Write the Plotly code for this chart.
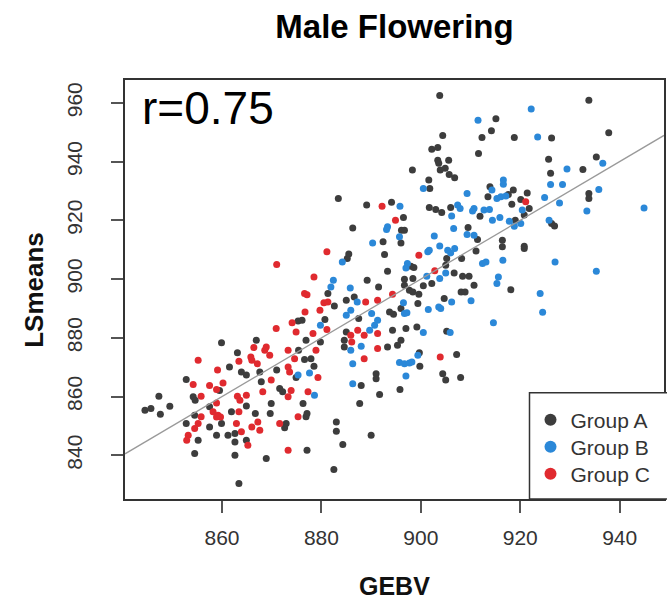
import numpy as np
import plotly.graph_objects as go

# ---------------- data ----------------
group_a_x = [883.4, 889.1, 894.1, 886.3, 892.4, 885.5, 885.2, 892.7, 889.2, 893.3,
             903.8, 933.8, 915.1, 914.2, 904.4, 912.3, 918.8, 926.3, 937.8, 911.6,
             902.2, 903.4, 903.4, 903.6, 905.6, 925.7, 935.3, 898.3, 903.9, 904.9,
             905.7, 906.8, 926.1, 932.6, 901.6, 901.8, 913.9, 918.6, 913.5, 917.6,
             921.4, 920.1, 918.3, 933.8, 933.8, 901.7, 903.0, 904.2, 906.0, 911.9,
             919.0, 921.8, 920.8, 926.3, 926.9, 896.5, 896.1, 896.7, 896.0, 909.5,
             911.4, 905.2, 905.0, 908.2, 911.1, 916.4, 916.4, 920.8, 920.8, 898.0,
             898.6, 906.7, 908.4, 909.7, 896.7, 898.4, 918.1, 896.7, 897.7, 898.4,
             899.6, 900.5, 902.2, 908.1, 908.9, 910.7, 904.7, 899.4, 896.0, 893.7,
             894.5, 894.3, 897.0, 899.2, 905.2, 896.0, 895.3, 893.3, 899.7, 899.8,
             907.2, 904.4, 905.0, 908.0, 895.8, 891.7, 881.3, 882.6, 886.6, 885.0,
             891.5, 887.5, 885.0, 884.6, 884.6, 891.0, 891.0, 888.0, 887.7, 890.0,
             884.3, 883.0, 883.0, 875.3, 876.1, 876.9, 880.7, 879.8, 875.4, 876.6,
             877.9, 878.5, 874.9, 871.0, 866.9, 863.1, 867.6, 867.9, 863.9, 864.9,
             861.5, 852.8, 859.5, 854.2, 854.6, 857.5, 859.9, 861.9, 864.9, 862.6,
             861.2, 862.6, 858.9, 857.5, 854.5, 852.8, 855.2, 854.5, 864.9, 866.7,
             869.9, 869.7, 871.6, 872.2, 872.9, 872.6, 876.3, 876.9, 877.1, 877.1,
             868.9, 862.6, 844.5, 845.7, 847.3, 847.6, 849.5, 859.9, 863.4, 882.5]
group_a_y = [927.4, 925.2, 926.2, 917.4, 912.7, 908.5, 907.0, 908.4, 899.6, 902.7,
             962.5, 960.9, 954.6, 950.5, 948.9, 948.2, 948.2, 948.0, 949.8, 942.8,
             944.2, 944.8, 940.5, 939.4, 940.5, 940.8, 941.6, 937.1, 937.1, 937.7,
             935.6, 934.5, 936.0, 937.3, 933.7, 930.8, 931.4, 930.3, 928.0, 928.8,
             929.3, 927.1, 925.5, 929.1, 927.4, 924.4, 923.7, 922.7, 924.4, 921.4,
             920.0, 924.0, 921.8, 918.9, 918.1, 921.0, 916.6, 916.6, 912.3, 917.6,
             913.5, 907.0, 904.7, 907.0, 909.6, 913.2, 911.0, 911.2, 910.4, 904.4,
             903.9, 902.1, 901.0, 901.0, 899.9, 900.2, 896.4, 897.9, 896.2, 895.6,
             894.8, 897.7, 898.5, 895.6, 895.6, 897.9, 893.4, 891.7, 890.0, 888.8,
             888.0, 882.6, 883.2, 883.7, 882.2, 879.2, 877.5, 876.9, 874.9, 870.3,
             874.3, 867.8, 865.6, 866.5, 862.4, 860.7, 895.1, 890.8, 893.9, 892.8,
             897.3, 886.6, 882.0, 879.2, 876.9, 867.8, 866.1, 863.8, 857.6, 846.8,
             843.7, 851.3, 848.2, 885.7, 886.0, 879.2, 886.2, 878.6, 875.8, 872.6,
             872.9, 870.3, 866.5, 869.0, 879.2, 874.9, 868.4, 865.0, 868.4, 867.3,
             870.1, 865.8, 862.1, 859.9, 858.7, 856.5, 850.8, 854.8, 856.8, 847.4,
             846.8, 844.5, 846.8, 849.6, 853.6, 850.8, 845.1, 840.6, 845.1, 854.2,
             857.6, 854.2, 862.7, 861.6, 850.8, 849.4, 857.6, 853.1, 854.2, 841.7,
             838.9, 840.0, 855.3, 855.9, 860.1, 854.0, 856.7, 878.3, 830.4, 835.2]

group_b_x = [893.3, 893.1, 890.3, 884.2, 882.4, 922.2, 911.5, 923.5, 936.6, 929.4,
             900.5, 916.6, 916.6, 914.3, 926.1, 928.5, 935.8, 909.3, 915.3, 916.1,
             917.1, 924.9, 927.9, 933.4, 944.9, 895.8, 907.4, 907.9, 910.7, 910.4,
             912.7, 913.8, 906.2, 914.4, 915.9, 917.8, 918.8, 920.1, 920.4, 925.8,
             895.7, 901.4, 901.7, 902.7, 906.6, 909.3, 910.7, 903.8, 905.4, 906.0,
             906.8, 916.5, 912.4, 913.1, 927.0, 935.3, 897.3, 897.0, 901.2, 905.0,
             915.6, 903.8, 915.3, 924.0, 924.5, 914.6, 910.1, 906.2, 903.6, 904.0,
             901.5, 896.5, 896.7, 897.2, 891.3, 900.5, 905.9, 899.4, 895.7, 896.7,
             897.7, 898.2, 897.0, 881.9, 885.8, 887.2, 885.9, 885.0, 890.1, 890.7,
             889.7, 885.9, 888.0, 886.3, 886.3, 879.8, 877.6, 875.3, 878.6]
group_b_y = [917.8, 916.9, 912.3, 905.8, 899.6, 957.9, 954.1, 948.4, 939.4, 937.5,
             930.8, 933.7, 932.3, 930.3, 932.2, 932.2, 930.5, 929.1, 927.4, 928.0,
             928.3, 927.8, 925.9, 923.2, 924.2, 924.8, 925.2, 924.0, 924.0, 923.2,
             923.5, 923.7, 921.5, 920.0, 921.0, 919.7, 918.0, 918.9, 923.5, 920.0,
             914.4, 909.3, 909.8, 914.7, 917.2, 915.2, 914.9, 911.3, 909.8, 908.9,
             910.4, 906.4, 905.3, 905.8, 905.8, 902.7, 905.3, 903.8, 901.0, 902.1,
             900.7, 900.2, 898.5, 895.1, 888.7, 885.1, 892.6, 892.2, 890.5, 890.0,
             889.6, 891.9, 888.3, 888.5, 886.0, 881.8, 881.8, 874.1, 871.6, 871.2,
             871.4, 871.8, 867.0, 897.3, 897.0, 892.2, 889.4, 887.7, 888.3, 884.3,
             882.6, 875.8, 877.1, 871.2, 864.4, 884.3, 868.0, 867.3, 860.4]

group_c_x = [892.2, 894.9, 881.1, 871.0, 878.5, 921.1, 899.6, 902.8, 894.3, 891.3,
             891.3, 891.3, 903.9, 876.6, 877.1, 880.5, 881.3, 879.7, 876.7, 888.9,
             888.6, 887.3, 885.9, 886.1, 888.6, 874.1, 874.9, 870.9, 878.3, 881.1,
             878.9, 873.3, 874.6, 879.3, 873.3, 873.6, 869.9, 868.9, 868.6, 869.6,
             866.4, 863.4, 865.8, 866.0, 867.1, 859.1, 860.2, 858.9, 857.5, 855.2,
             854.2, 855.8, 858.9, 858.2, 859.2, 859.7, 858.9, 863.1, 863.6, 864.9,
             863.4, 862.9, 855.8, 855.2, 854.5, 853.2, 863.9, 865.2, 866.0, 867.2,
             867.6, 868.2, 873.9, 873.3, 871.6, 877.3, 875.3, 873.3, 852.9]
group_c_y = [924.8, 920.0, 909.3, 905.0, 900.7, 926.3, 908.1, 902.8, 894.8, 892.8,
             881.5, 876.4, 873.5, 895.1, 894.7, 891.9, 892.2, 889.4, 888.8, 892.2,
             880.9, 882.6, 880.9, 878.6, 872.9, 885.1, 882.0, 883.2, 881.5, 882.8,
             875.8, 875.8, 872.9, 866.5, 870.1, 868.4, 865.6, 876.9, 875.8, 874.1,
             876.7, 872.0, 873.5, 872.4, 871.2, 869.0, 864.6, 862.4, 863.8, 872.4,
             864.1, 860.1, 857.8, 854.8, 853.6, 853.0, 853.0, 860.1, 858.7, 860.4,
             854.8, 850.8, 853.1, 850.8, 849.1, 846.8, 848.0, 843.4, 849.6, 851.3,
             848.5, 861.6, 862.1, 859.9, 850.8, 861.6, 853.1, 841.7, 845.1]

group_names = ["Group A", "Group B", "Group C"]
group_colors = ["#3d3d3d", "#2b88d8", "#e02a2f"]
x_ticks = [860, 880, 900, 920, 940]
y_ticks = [840, 860, 880, 900, 920, 940, 960]
title_text = "Male Flowering"
r_label = "r=0.75"
x_title = "GEBV"
y_title = "LSmeans"

# ---------------- figure ----------------
FONT = "Liberation Sans, Arial, Helvetica, sans-serif"


def r_style_range(values):
    lo, hi = min(values), max(values)
    pad = (hi - lo) * 0.04
    return [lo - pad, hi + pad]


xr = r_style_range(group_a_x + group_b_x + group_c_x)
yr = r_style_range(group_a_y + group_b_y + group_c_y)

W, H = 667, 601
ml, mr, mt, mb = 125, 1, 80, 102
pw, ph = W - ml - mr, H - mt - mb

legend_ids = ["legend", "legend2", "legend3"]
legend_rows_px = [420, 447, 474]   # centre line of each legend row

fig = go.Figure()
for name, xs, ys, col, lid in zip(group_names,
                                  [group_a_x, group_b_x, group_c_x],
                                  [group_a_y, group_b_y, group_c_y],
                                  group_colors, legend_ids):
    fig.add_trace(go.Scatter(x=xs, y=ys, mode="markers", name=name, legend=lid,
                             marker=dict(color=col, size=7, line=dict(width=0)),
                             hoverinfo="skip"))

shapes = [
    # 1:1 reference line
    dict(type="line", xref="x", yref="y", x0=xr[0], y0=xr[0], x1=xr[1], y1=xr[1],
         line=dict(color="#9a9a9a", width=1.3), layer="above"),
    # legend box
    dict(type="rect", xref="paper", yref="paper",
         x0=(531 - ml) / pw, x1=1.02, y0=0, y1=(mt + ph - 392.7) / ph,
         fillcolor="white", line=dict(color="#333333", width=1.5), layer="above"),
]

annotations = [
    dict(text=r_label, xref="paper", yref="paper", x=(140 - ml) / pw,
         y=(mt + ph - 108) / ph, xanchor="left", yanchor="middle",
         showarrow=False, font=dict(family=FONT, size=46, color="black")),
    dict(text=x_title, xref="paper", yref="paper", x=0.5, y=(mt + ph - 586) / ph,
         xanchor="center", yanchor="middle", showarrow=False,
         font=dict(family=FONT, size=25, color="#111111", weight="bold")),
    dict(text=y_title, xref="paper", yref="paper", x=(33 - ml) / pw, y=0.5,
         xanchor="center", yanchor="middle", textangle=-90, showarrow=False,
         font=dict(family=FONT, size=26, color="#111111", weight="bold")),
]

axis_common = dict(showgrid=False, zeroline=False, showline=True, mirror=True,
                   linecolor="#333333", linewidth=1.5, ticks="outside",
                   ticklen=12, tickwidth=1.5, tickcolor="#555555",
                   tickfont=dict(family=FONT, size=21, color="#333333"))

legend_common = dict(xanchor="left", yanchor="middle", bgcolor="rgba(0,0,0,0)",
                     borderwidth=0, itemsizing="constant",
                     font=dict(family=FONT, size=21, color="#333333"))

fig.update_layout(
    width=W, height=H,
    margin=dict(l=ml, r=mr, t=mt, b=mb, pad=0),
    paper_bgcolor="white", plot_bgcolor="white",
    title=dict(text=title_text, x=0.5, xref="paper", xanchor="center",
               y=1 - 26 / H, yanchor="middle",
               font=dict(family=FONT, size=33, color="black", weight="bold")),
    xaxis=dict(range=xr, tickvals=x_ticks, ticklabelstandoff=7, **axis_common),
    yaxis=dict(range=yr, tickvals=y_ticks, tickangle=-90, ticklabelstandoff=21,
               **axis_common),
    showlegend=True,
    shapes=shapes,
    annotations=annotations,
)
for lid, row in zip(legend_ids, legend_rows_px):
    fig.update_layout({lid: dict(x=(532 - ml) / pw, y=(mt + ph - row) / ph,
                                 **legend_common)})

fig.write_html("out.html")
